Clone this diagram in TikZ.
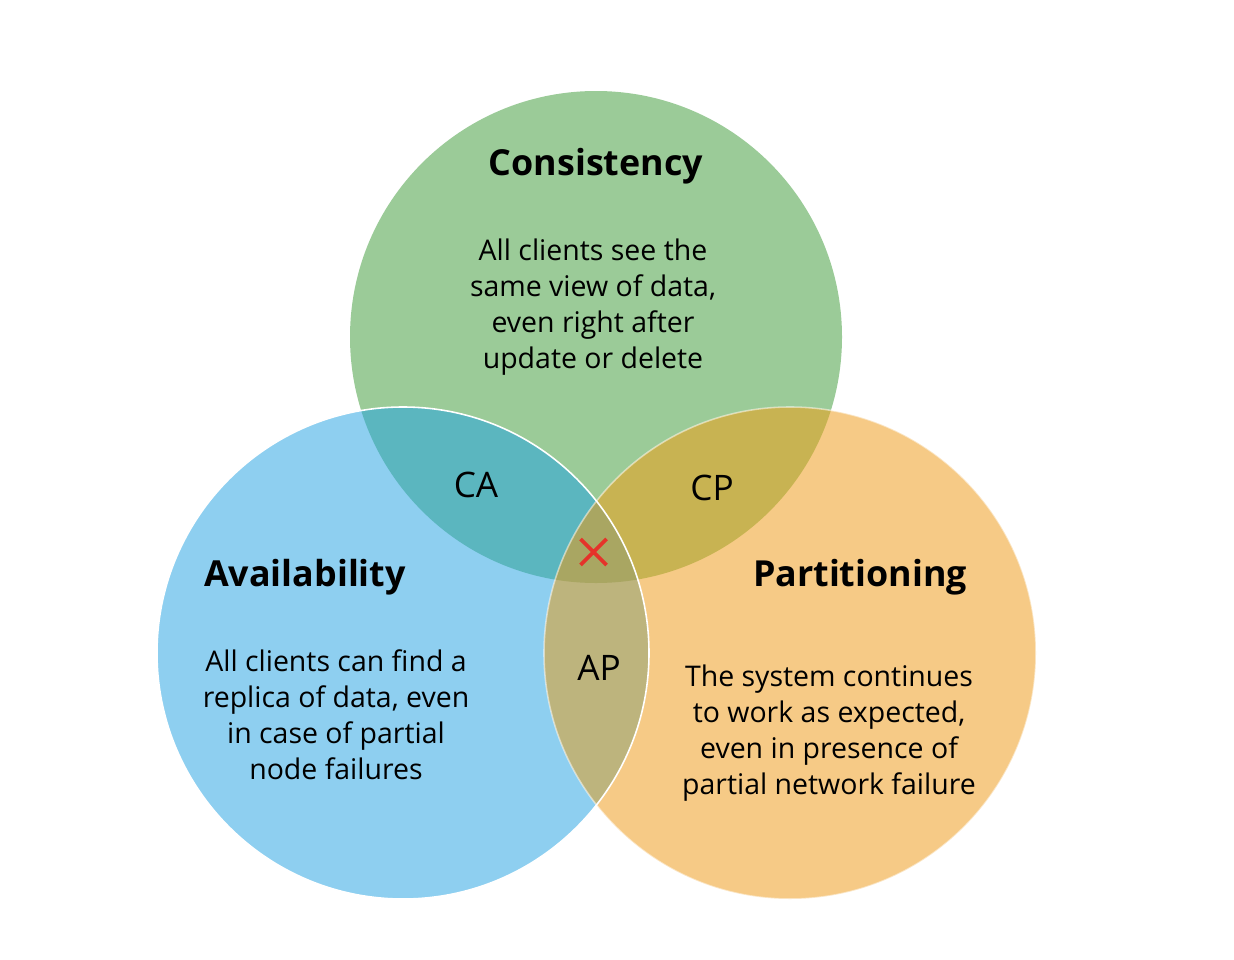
\documentclass[tikz,border=0pt]{standalone}
\usepackage{fontspec}
\setmainfont{Open Sans}
\usepackage{tikz}
\usetikzlibrary{positioning}
\definecolor{consgreen}{HTML}{9BCB98}
\definecolor{availblue}{HTML}{8ECFF0}
\definecolor{partorange}{HTML}{F6CA86}
\definecolor{caTeal}{HTML}{5BB6BF}
\definecolor{cpOlive}{HTML}{C8B352}
\definecolor{apKhaki}{HTML}{BDB47D}
\definecolor{capMid}{HTML}{A9A662}
\definecolor{crossred}{HTML}{E5332A}

\begin{document}
\begin{tikzpicture}[
  x=0.02cm, y=-0.02cm,
  title/.style={font=\fontsize{20.4}{25}\selectfont\bfseries, inner sep=0pt},
  body/.style={font=\fontsize{16.2}{20.4}\selectfont, align=center, inner sep=0pt},
  pair/.style={font=\fontsize{20}{24}\selectfont, inner sep=0pt},
  rim/.style={draw=white, line width=0.9pt}
]
\useasboundingbox (0,0) rectangle (1234,960);
\def\R{246}
% circle centres: C on top, A bottom left, P bottom right
\coordinate (cC) at (596,337);
\coordinate (cA) at (403,653);
\coordinate (cP) at (790,653);

% plain discs
\fill[consgreen] (cC) circle[radius=\R];
\fill[availblue] (cA) circle[radius=\R];
\fill[partorange] (cP) circle[radius=\R];
% overlaps
\begin{scope}
  \clip (cC) circle[radius=\R];
  \fill[caTeal] (cA) circle[radius=\R];
  \fill[cpOlive] (cP) circle[radius=\R];
\end{scope}
\begin{scope}
  \clip (cA) circle[radius=\R];
  \fill[apKhaki] (cP) circle[radius=\R];
  \clip (cC) circle[radius=\R];
  \fill[capMid] (cP) circle[radius=\R];
\end{scope}
% white rims
\draw[rim] (cA) circle[radius=\R];
\draw[rim, draw opacity=0.5] (cP) circle[radius=\R];

% labels
\node[title] (tC) at (596,166) {Consistency};
\node[body] (bC) at (593,307) {All clients see the\\same view of data,\\even right after\\update or delete};
\node[title] (tA) at (305,577) {Availability};
\node[body] (bA) at (336,715) {All clients can find a\\replica of data, even\\in case of partial\\node failures};
\node[title] (tP) at (860,577) {Partitioning};
\node[body] (bP) at (829,733) {The system continues\\to work as expected,\\even in presence of\\partial network failure};
\node[pair] (ca) at (476,485) {CA};
\node[pair] (cp) at (712,488) {CP};
\node[pair] (ap) at (599,668) {AP};

% the empty centre
\coordinate (xm) at (593.5,552);
\draw[crossred, line width=2.1pt] ([shift={(-13,-13)}]xm) -- ([shift={(13,13)}]xm)
  ([shift={(-13,13)}]xm) -- ([shift={(13,-13)}]xm);
\end{tikzpicture}
\end{document}
